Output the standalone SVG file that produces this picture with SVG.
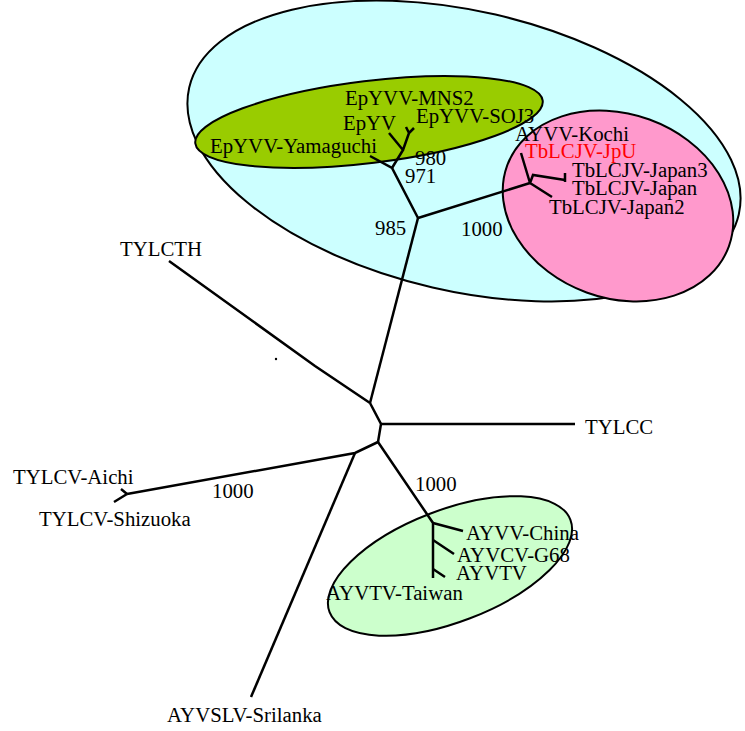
<svg xmlns="http://www.w3.org/2000/svg" width="745" height="731" viewBox="0 0 745 731">
<style>
.bg{stroke:#000;stroke-width:2}
.t{font-family:"Liberation Serif","Times New Roman",serif;font-size:20.8px;fill:#000}
.red{fill:#FF0000}
.e{fill:none;stroke:#000;stroke-width:2.5;stroke-linecap:butt;stroke-linejoin:miter}
</style>
<rect width="745" height="731" fill="#fff"/>
<g id="clusters">
<ellipse id="cl-cyan" class="bg" cx="464" cy="151" rx="282" ry="140" transform="rotate(13 464 151)" fill="#CCFFFF"/>
<ellipse id="cl-olive" class="bg" cx="369" cy="122" rx="175" ry="41" transform="rotate(-7 369 122)" fill="#99CC00"/>
<ellipse id="cl-pink" class="bg" cx="618" cy="206" rx="118" ry="92" transform="rotate(20 618 206)" fill="#FF99CC"/>
<ellipse id="cl-green" class="bg" cx="450" cy="566" rx="129" ry="56" transform="rotate(-21 450 566)" fill="#CCFFCC"/>
</g>
<g id="connectors">
<path class="e" d="M370,403 L418,218"/>
<path class="e" d="M370,403 L315,366 L169,261"/>
<path class="e" d="M370,403 L381,424 L378,442"/>
<path class="e" d="M381,424 L575,424"/>
<path class="e" d="M378,442 L355,453 L127,494"/>
<path class="e" d="M127,494 L121,489 M127,494 L114,502"/>
<path class="e" d="M355,453 L251,697"/>
<path class="e" d="M378,442 L433,523 L433,578"/>
<path class="e" d="M433,523 L463,531 M433,540 L454,554 M433,569 L445,577"/>
<path class="e" d="M418,218 L530,183"/>
<path class="e" d="M530,183 L521,153 M530,183 L552,197 M530,183 L533,175 L565,180 M565,173 L565,182"/>
<path class="e" d="M418,218 L392,168 L370,156"/>
<path class="e" d="M392,168 L403,150 L389,133 M403,150 L409,133 L406,127 M409,133 L414,128"/>
<circle cx="276" cy="359" r="1.2" fill="#000"/>
</g>
<g id="labels">
<g id="n-mns2"><text class="t" x="345" y="105">EpYVV-MNS2</text></g>
<g id="n-epyv"><text class="t" x="343" y="130">EpYV</text></g>
<g id="n-soj3"><text class="t" x="416" y="123">EpYVV-SOJ3</text></g>
<g id="n-yamaguchi"><text class="t" x="210" y="153">EpYVV-Yamaguchi</text></g>
<g id="b-980"><text class="t" x="415" y="165">980</text></g>
<g id="b-971"><text class="t" x="405" y="183">971</text></g>
<g id="b-985"><text class="t" x="375" y="235">985</text></g>
<g id="b-1000a"><text class="t" x="461" y="236">1000</text></g>
<g id="n-kochi"><text class="t" x="515" y="141">AYVV-Kochi</text></g>
<g id="n-jpu"><text class="t red" x="525" y="158">TbLCJV-JpU</text></g>
<g id="n-japan3"><text class="t" x="572" y="177">TbLCJV-Japan3</text></g>
<g id="n-japan"><text class="t" x="572" y="195">TbLCJV-Japan</text></g>
<g id="n-japan2"><text class="t" x="549" y="214">TbLCJV-Japan2</text></g>
<g id="n-tylcth"><text class="t" x="120" y="256">TYLCTH</text></g>
<g id="n-tylcc"><text class="t" x="585" y="434">TYLCC</text></g>
<g id="n-aichi"><text class="t" x="13" y="484">TYLCV-Aichi</text></g>
<g id="b-1000b"><text class="t" x="212" y="498">1000</text></g>
<g id="n-shizuoka"><text class="t" x="39" y="526">TYLCV-Shizuoka</text></g>
<g id="b-1000c"><text class="t" x="415" y="491">1000</text></g>
<g id="n-china"><text class="t" x="466" y="540">AYVV-China</text></g>
<g id="n-g68"><text class="t" x="457" y="562">AYVCV-G68</text></g>
<g id="n-ayvtv"><text class="t" x="456" y="580">AYVTV</text></g>
<g id="n-taiwan"><text class="t" x="326" y="600">AYVTV-Taiwan</text></g>
<g id="n-srilanka"><text class="t" x="167" y="722">AYVSLV-Srilanka</text></g>
</g>
</svg>
